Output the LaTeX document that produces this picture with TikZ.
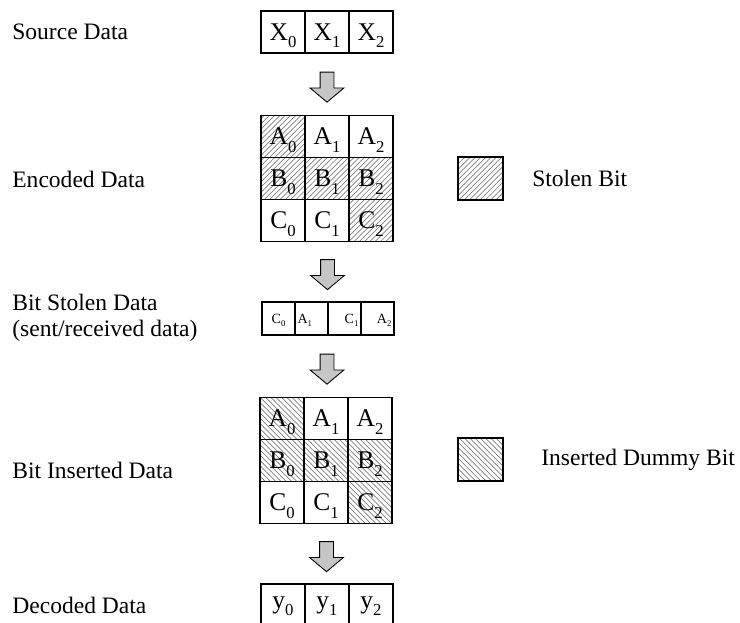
\documentclass[tikz,border=0pt]{standalone}
\usepackage{fontspec}
\setmainfont{Liberation Serif}
\usetikzlibrary{matrix, patterns, shapes.arrows, calc, positioning}

\newcommand{\bitlbl}[2]{#1\raisebox{-0.3em}[0pt][0pt]{\fontsize{9.5}{9.5}\selectfont #2}}
\newcommand{\tinybit}[2]{#1\raisebox{-0.25em}[0pt][0pt]{\fontsize{5}{5}\selectfont #2}}

\tikzset{
  bitgrid/.style={matrix of nodes, inner sep=0pt, column sep=-1.1pt, row sep=-1.1pt,
    nodes={draw, line width=1.1pt, minimum width=0.88cm, minimum height=0.84cm, inner sep=0pt, anchor=center, font=\fontsize{14.5}{14.5}\selectfont}},
  stolen/.style={pattern=north east lines, pattern color=gray},
  dummy/.style={pattern=north west lines, pattern color=gray},
  flow/.style={single arrow, draw, fill=gray!45, line width=0.5pt, rotate=-90, inner xsep=0pt, inner ysep=0.13cm,
    minimum height=0.6cm, single arrow head extend=0.2cm, single arrow tip angle=100},
  lbl/.style={anchor=west, align=left, inner sep=0pt, font=\fontsize{13.4}{14.5}\selectfont},
  keybox/.style={draw, line width=1.1pt, minimum width=0.9cm, minimum height=0.86cm}
}

\begin{document}
\begin{tikzpicture}[x=0.02cm, y=-0.02cm]
\useasboundingbox (0,0) rectangle (740,622);
\matrix (src) [bitgrid] at (327,32) {
\bitlbl{X}{0} & \bitlbl{X}{1} & \bitlbl{X}{2} \\
};
\matrix (enc) [bitgrid] at (327,178.5) {
|[stolen]| \bitlbl{A}{0} & \bitlbl{A}{1} & \bitlbl{A}{2} \\
|[stolen]| \bitlbl{B}{0} & |[stolen]| \bitlbl{B}{1} & |[stolen]| \bitlbl{B}{2} \\
\bitlbl{C}{0} & \bitlbl{C}{1} & |[stolen]| \bitlbl{C}{2} \\
};
\matrix (sent) [bitgrid, nodes={minimum width=0.66cm, minimum height=0.66cm, text width=0.56cm, inner xsep=0.05cm, font=\fontsize{8}{8}\selectfont}] at (328,318.5) {
|[align=center]| \tinybit{C}{0} & |[align=left]| \tinybit{A}{1} & |[align=right]| \tinybit{C}{1} & |[align=right]| \tinybit{A}{2} \\
};
\matrix (ins) [bitgrid] at (326,460.5) {
|[dummy]| \bitlbl{A}{0} & \bitlbl{A}{1} & \bitlbl{A}{2} \\
|[dummy]| \bitlbl{B}{0} & |[dummy]| \bitlbl{B}{1} & |[dummy]| \bitlbl{B}{2} \\
\bitlbl{C}{0} & \bitlbl{C}{1} & |[dummy]| \bitlbl{C}{2} \\
};
\matrix (dec) [bitgrid] at (327,605) {
\bitlbl{y}{0} & \bitlbl{y}{1} & \bitlbl{y}{2} \\
};
\node (a1) [flow] at ($(src.south)!0.5!(enc.north)$) {};
\node (a2) [flow] at ($(enc.south)!0.5!(sent.north)$) {};
\node (a3) [flow] at ($(sent.south)!0.5!(ins.north)$) {};
\node (a4) [flow] at ($(ins.south)!0.5!(dec.north)$) {};
\node (srclbl) [lbl] at (12,32) {Source Data};
\node (enclbl) [lbl] at (12,179) {Encoded Data};
\node (sentlbl) [lbl] at (12,318) {Bit Stolen Data\\(sent/received data)};
\node (inslbl) [lbl] at (12,470) {Bit Inserted Data};
\node (declbl) [lbl] at (12,605) {Decoded Data};
\node (keyst) [keybox, stolen] at (480.5,178.5) {};
\node (keystlbl) [lbl, right=0.56cm of keyst] {Stolen Bit};
\node (keyins) [keybox, dummy] at (480.5,459.5) {};
\node (keyinslbl) [lbl, right=0.74cm of keyins] {Inserted Dummy Bit};
\end{tikzpicture}
\end{document}
